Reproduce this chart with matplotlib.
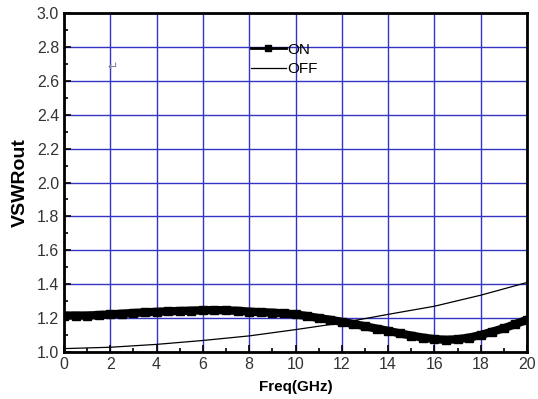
import numpy as np
import matplotlib.pyplot as plt
from matplotlib.ticker import MultipleLocator

plt.rcParams['font.family'] = ['Liberation Sans', 'DejaVu Sans']

# datos
freq_on = [0, 0.5, 1, 1.5, 2, 2.5, 3, 3.5, 4, 4.5, 5, 5.5, 6, 6.5, 7, 7.5, 8, 8.5, 9, 9.5,
           10, 10.5, 11, 11.5, 12, 12.5, 13, 13.5, 14, 14.5, 15, 15.5, 16, 16.5, 17, 17.5,
           18, 18.5, 19, 19.5, 20]
vswr_on = [1.215, 1.215, 1.215, 1.218, 1.222, 1.226, 1.230, 1.234, 1.237, 1.240, 1.242,
           1.244, 1.246, 1.247, 1.246, 1.243, 1.238, 1.235, 1.232, 1.228, 1.222, 1.212,
           1.200, 1.190, 1.178, 1.165, 1.152, 1.138, 1.125, 1.110, 1.097, 1.085, 1.076,
           1.072, 1.075, 1.085, 1.100, 1.120, 1.140, 1.165, 1.190]

freq_off = [0, 2, 4, 6, 8, 10, 12, 14, 16, 18, 20]
vswr_off = [1.02, 1.028, 1.045, 1.068, 1.095, 1.132, 1.172, 1.222, 1.27, 1.335, 1.41]

xticks = np.arange(0, 21, 2)
yticks = np.arange(1.0, 3.01, 0.2)

fig = plt.figure(figsize=(5.38, 3.99), dpi=100)
ax = fig.add_axes([64/538, 1 - 352/399, 463/538, 339/399])

ax.plot(freq_on, vswr_on, color='black', lw=6, marker='s', ms=6, label='ON', zorder=3)
ax.plot(freq_off, vswr_off, color='black', lw=0.9, label='OFF', zorder=3)

ax.set_xlim(0, 20)
ax.set_ylim(1.0, 3.0)
ax.set_xticks(xticks)
ax.set_yticks(yticks)
ax.set_yticklabels([f'{v:.1f}' for v in yticks])
ax.xaxis.set_minor_locator(MultipleLocator(1))
ax.yaxis.set_minor_locator(MultipleLocator(0.1))
ax.grid(True, which='major', color='#3434c4', lw=1.0, zorder=1)
ax.tick_params(which='both', direction='in', labelsize=11.5, colors='black',
               labelcolor='#333333', width=1.2)
ax.tick_params(which='major', length=5)
ax.tick_params(which='minor', length=3)
for s in ax.spines.values():
    s.set_linewidth(2)

ax.set_xlabel('Freq(GHz)', fontsize=11, fontweight='bold', labelpad=6)
ax.set_ylabel('VSWRout', fontsize=14, fontweight='bold', labelpad=6)

leg = ax.legend(loc='upper left', bbox_to_anchor=(0.39, 0.93), frameon=False,
                fontsize=11, handlelength=2.3, handletextpad=0.1, labelspacing=0.35,
                borderaxespad=0)
leg.legend_handles[0].set_linewidth(2)
leg.legend_handles[0].set_markersize(5)

ax.text(2.1, 2.68, '\u21b5', fontsize=9, color='#8080a0', ha='center', va='center')

fig.savefig('out.png', dpi=100)
